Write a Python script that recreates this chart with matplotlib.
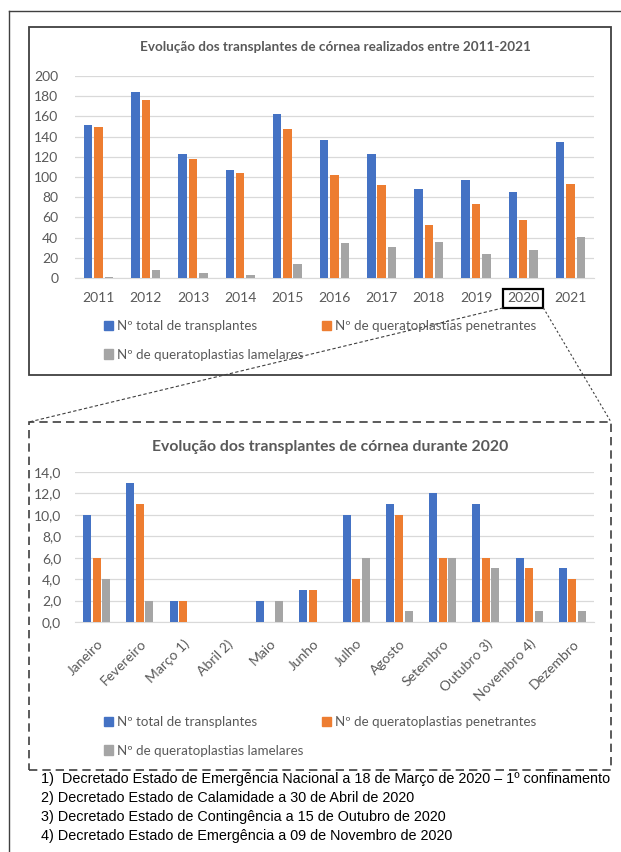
import matplotlib.pyplot as plt
import numpy as np
from matplotlib.lines import Line2D
from matplotlib.patches import Rectangle, Patch
from matplotlib.ticker import FuncFormatter, MultipleLocator

# transplantes por ano
anos = ['2011', '2012', '2013', '2014', '2015', '2016', '2017', '2018', '2019', '2020', '2021']
total_anos = [151, 184, 123, 107, 162, 137, 123, 88, 97, 85, 135]
penetrantes_anos = [150, 176, 118, 104, 148, 102, 92, 52, 73, 57, 93]
lamelares_anos = [1, 8, 5, 3, 14, 35, 31, 36, 24, 28, 41]

# transplantes por mes em 2020
meses = ['Janeiro', 'Fevereiro', 'Março 1)', 'Abril 2)', 'Maio', 'Junho', 'Julho',
         'Agosto', 'Setembro', 'Outubro 3)', 'Novembro 4)', 'Dezembro']
total_2020 = [10, 13, 2, 0, 2, 3, 10, 11, 12, 11, 6, 5]
penetrantes_2020 = [6, 11, 2, 0, 0, 3, 4, 10, 6, 6, 5, 4]
lamelares_2020 = [4, 2, 0, 0, 2, 0, 6, 1, 6, 5, 1, 1]

series_nomes = ['Nº total de transplantes', 'Nº de queratoplastias penetrantes',
                'Nº de queratoplastias lamelares']
cores = ['#4472C4', '#ED7D31', '#A5A5A5']

notas = [
    '1)  Decretado Estado de Emergência Nacional a 18 de Março de 2020 – 1º confinamento',
    '2) Decretado Estado de Calamidade a 30 de Abril de 2020',
    '3) Decretado Estado de Contingência a 15 de Outubro de 2020',
    '4) Decretado Estado de Emergência a 09 de Novembro de 2020',
]

W, H = 621, 852
CINZA = '#595959'
LINHA = '#404040'
plt.rcParams['font.family'] = ['Lato', 'DejaVu Sans']

fig = plt.figure(figsize=(W / 100, H / 100), dpi=100)


def fx(px):
    return px / W


def fy(py):
    return 1 - py / H


def grafico(rect, cats, series, ymax, passo, titulo, titulo_x, titulo_y, tam_titulo):
    ax = fig.add_axes(rect)
    x = np.arange(len(cats))
    for i, (vals, cor) in enumerate(zip(series, cores)):
        ax.bar(x + (i - 1) * 0.22, vals, width=0.18, color=cor, linewidth=0, zorder=3)
    ax.set_xlim(-0.5, len(cats) - 0.5)
    ax.set_ylim(0, ymax)
    ax.yaxis.set_major_locator(MultipleLocator(passo))
    ax.grid(axis='y', color='#D9D9D9', linewidth=0.9, zorder=0)
    for s in ['top', 'right', 'left']:
        ax.spines[s].set_visible(False)
    ax.spines['bottom'].set_color('#D9D9D9')
    ax.set_xticks(x)
    ax.tick_params(length=0, colors=CINZA, labelsize=10)
    fig.text(titulo_x, titulo_y, titulo, ha='center', va='center',
             fontsize=tam_titulo, fontweight='bold', color=CINZA)
    return ax


def legenda(x, y):
    handles = [Patch(color=c) for c in cores]
    ordem = [0, 2, 1]
    fig.legend([handles[i] for i in ordem], [series_nomes[i] for i in ordem], ncol=2,
               loc='upper left', bbox_to_anchor=(fx(x), fy(y)), frameon=False,
               handlelength=0.7, handleheight=0.7, handletextpad=0.3,
               columnspacing=1.35, labelspacing=1.25, borderpad=0, borderaxespad=0,
               fontsize=9.6, labelcolor=CINZA)


# grafico anual
ax1 = grafico([fx(75), fy(278), fx(594) - fx(75), (278 - 76) / H], anos,
              [total_anos, penetrantes_anos, lamelares_anos], 200, 20,
              'Evolução dos transplantes de córnea realizados entre 2011-2021',
              fx(335), fy(47), 9.7)
ax1.set_xticklabels(anos)
ax1.tick_params(axis='x', pad=10)
ax1.tick_params(axis='y', pad=12)
legenda(104, 320)

# grafico mensal de 2020
ax2 = grafico([fx(75), fy(622), fx(594) - fx(75), (622 - 472) / H], meses,
              [total_2020, penetrantes_2020, lamelares_2020], 14, 2,
              'Evolução dos transplantes de córnea durante 2020',
              fx(330), fy(447), 11.3)
ax2.set_xticklabels(meses, rotation=45, ha='right', rotation_mode='anchor')
ax2.tick_params(axis='x', pad=11)
ax2.tick_params(axis='y', pad=10)
ax2.yaxis.set_major_formatter(FuncFormatter(lambda v, p: f'{v:.1f}'.replace('.', ',')))
legenda(104, 716)

# molduras
fig.add_artist(Line2D([fx(9), fx(9)], [fy(11), 0], color=LINHA, lw=1))
fig.add_artist(Line2D([fx(9), 1], [fy(11), fy(11)], color=LINHA, lw=1))
fig.add_artist(Rectangle((fx(29), fy(375)), fx(611) - fx(29), (375 - 27) / H, fill=False,
                         edgecolor=LINHA, lw=1.3))
fig.add_artist(Rectangle((fx(29), fy(770)), fx(611) - fx(29), (770 - 422) / H, fill=False,
                         edgecolor=LINHA, lw=1.2, linestyle=(0, (5, 3))))

# destaque de 2020 e ligacao ao grafico mensal
fig.canvas.draw()
bb = ax1.get_xticklabels()[anos.index('2020')].get_window_extent()
x0, y0 = bb.x0 - 4, bb.y0 - 4
x1, y1 = bb.x1 + 4, bb.y1 + 3
fig.add_artist(Rectangle((x0 / W, y0 / H), (x1 - x0) / W, (y1 - y0) / H, fill=False,
                         edgecolor='black', lw=1.6))
fig.add_artist(Line2D([x0 / W, fx(29)], [y0 / H, fy(422)], color=LINHA, lw=0.8,
                      linestyle=(0, (3, 2))))
fig.add_artist(Line2D([x1 / W, fx(611)], [y0 / H, fy(422)], color=LINHA, lw=0.8,
                      linestyle=(0, (2, 2))))

# notas
for i, nota in enumerate(notas):
    fig.text(fx(41), fy(779 + i * 19), nota, ha='left', va='center', fontsize=10.4,
             family='Liberation Sans', color='black')

fig.savefig('out.png', dpi=100)
